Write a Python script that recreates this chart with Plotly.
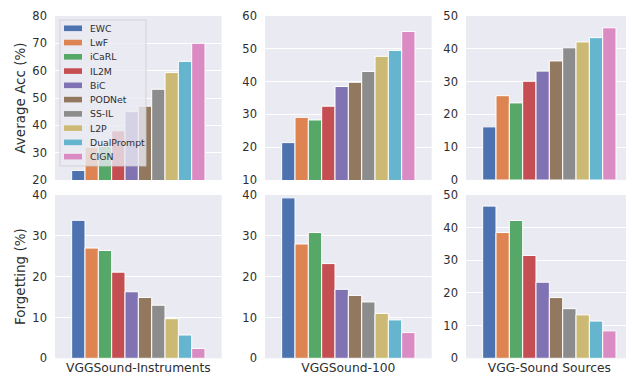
import plotly.graph_objects as go
from plotly.subplots import make_subplots

methods = ["EWC", "LwF", "iCaRL", "IL2M", "BiC", "PODNet", "SS-IL", "L2P", "DualPrompt", "CIGN"]
colors = ["#4C72B0", "#DD8452", "#55A868", "#C44E52", "#8172B3",
          "#937860", "#8C8C8C", "#CCB974", "#64B5CD", "#DA8BC3"]
datasets = ["VGGSound-Instruments", "VGGSound-100", "VGG-Sound Sources"]

acc_instruments = [23.5, 32.0, 32.3, 38.0, 45.0, 47.0, 53.2, 59.3, 63.4, 70.0]
acc_100 = [21.4, 29.1, 28.3, 32.5, 38.5, 39.8, 43.1, 47.7, 49.5, 55.3]
acc_sources = [16.2, 25.7, 23.5, 30.1, 33.2, 36.3, 40.3, 42.1, 43.4, 46.4]
fgt_instruments = [33.8, 27.0, 26.4, 21.1, 16.3, 14.9, 13.0, 9.7, 5.7, 2.4]
fgt_100 = [39.3, 28.0, 30.8, 23.2, 16.9, 15.4, 13.8, 11.0, 9.4, 6.3]
fgt_sources = [46.6, 38.5, 42.2, 31.5, 23.3, 18.6, 15.2, 13.3, 11.4, 8.4]

acc_ranges = [[20, 80], [10, 60], [0, 50]]
fgt_ranges = [[0, 40], [0, 40], [0, 50]]

acc_all = [acc_instruments, acc_100, acc_sources]
fgt_all = [fgt_instruments, fgt_100, fgt_sources]

# the page body adds an 8px margin; the figure fills the rest of the 634x379 window
OFF = 8
FW, FH = 634 - OFF, 379 - OFF


def fx(px):
    return (px - OFF) / FW


def fy(py):
    return 1 - (py - OFF) / FH


FONT = "DejaVu Sans"
TXT = "#2e2e2e"
BG = "#EAEAF2"

fig = make_subplots(rows=2, cols=3)

for c in range(3):
    for i, m in enumerate(methods):
        fig.add_trace(go.Bar(x=[datasets[c]], y=[acc_all[c][i]], name=m,
                             marker=dict(color=colors[i], line=dict(color="white", width=1)),
                             showlegend=False), row=1, col=c + 1)
        fig.add_trace(go.Bar(x=[datasets[c]], y=[fgt_all[c][i]], name=m,
                             marker=dict(color=colors[i], line=dict(color="white", width=1)),
                             showlegend=False), row=2, col=c + 1)

xdoms = [[fx(55), fx(221.7)], [fx(265), fx(431.7)], [fx(466), fx(632.7)]]
ydoms = [[fy(180), fy(16)], [fy(358.3), fy(195)]]

for r in range(2):
    for c in range(3):
        fig.update_xaxes(domain=xdoms[c], showgrid=False, zeroline=False, showline=False,
                         ticks="", showticklabels=(r == 1), automargin=False,
                         tickfont=dict(family=FONT, size=12.3, color=TXT),
                         ticklabelstandoff=0,
                         row=r + 1, col=c + 1)
        fig.update_yaxes(domain=ydoms[r], range=(acc_ranges if r == 0 else fgt_ranges)[c],
                         dtick=10, showgrid=True, gridcolor="white", gridwidth=1,
                         zeroline=False, showline=False, ticks="", automargin=False,
                         tickfont=dict(family=FONT, size=11.5, color=TXT),
                         ticklabelstandoff=7,
                         row=r + 1, col=c + 1)

fig.update_yaxes(title=dict(text="Average Acc (%)", font=dict(family=FONT, size=13.5, color=TXT),
                            standoff=3), row=1, col=1)
fig.update_yaxes(title=dict(text="Forgetting (%)", font=dict(family=FONT, size=13.5, color=TXT),
                            standoff=3), row=2, col=1)

# legend (matplotlib-style box in the first panel)
lx0, lx1, ly0, ly1 = 60, 146, 20, 166
fig.add_shape(type="rect", xref="paper", yref="paper",
              x0=fx(lx0), x1=fx(lx1), y0=fy(ly1), y1=fy(ly0),
              fillcolor="rgba(234,234,242,0.8)", line=dict(color="rgba(204,204,204,0.8)", width=1),
              layer="above")
for i, m in enumerate(methods):
    yc = 28.3 + i * 14.26
    fig.add_shape(type="rect", xref="paper", yref="paper",
                  x0=fx(64), x1=fx(82), y0=fy(yc + 2.8), y1=fy(yc - 2.8),
                  fillcolor=colors[i], line=dict(width=0), layer="above")
    fig.add_annotation(x=fx(88), y=fy(yc), xref="paper", yref="paper",
                       text=m, showarrow=False, xanchor="left", yanchor="middle",
                       font=dict(family=FONT, size=9.3, color=TXT))

fig.update_layout(width=FW, height=FH, margin=dict(l=0, r=0, t=0, b=0),
                  paper_bgcolor="white", plot_bgcolor=BG,
                  barmode="group", bargap=0.2, bargroupgap=0,
                  showlegend=False, font=dict(family=FONT, color=TXT))

fig.write_html("out.html")
